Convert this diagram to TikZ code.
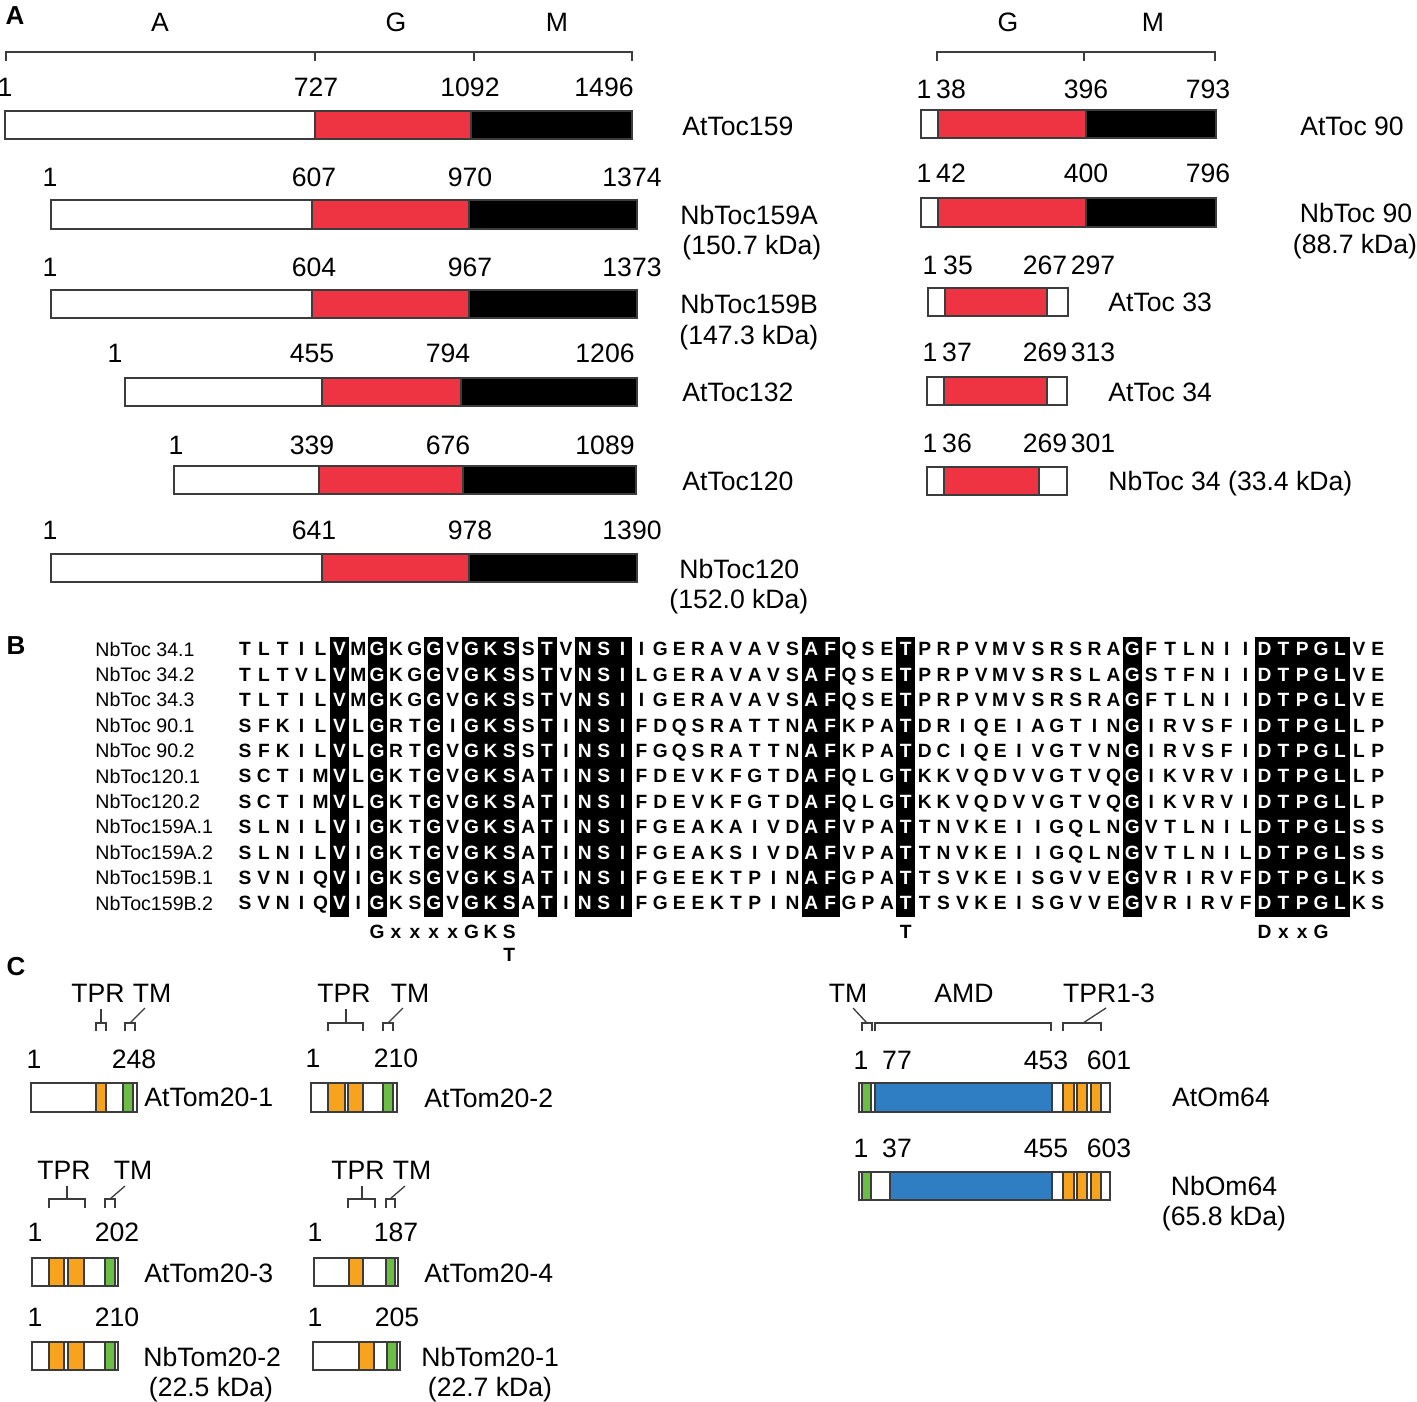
\documentclass[tikz,border=0pt]{standalone}
\usepackage{fontspec}
\setmainfont{Liberation Sans}
\definecolor{tocred}{RGB}{238,51,66}
\definecolor{tporange}{RGB}{247,163,30}
\definecolor{tmgreen}{RGB}{108,189,69}
\definecolor{amdblue}{RGB}{47,125,194}
\definecolor{bdr}{RGB}{60,60,60}
\tikzset{
 lab/.style={font=\fontsize{13.3}{15}\selectfont, inner sep=0pt, anchor=base, yshift=-4.76pt},
 labl/.style={lab, anchor=base west},
 panel/.style={font=\fontsize{13}{15}\selectfont\bfseries, inner sep=0pt, anchor=base, yshift=-4.65pt},
 aa/.style={font=\fontsize{9.6}{11}\selectfont\bfseries, inner sep=0pt, anchor=base, yshift=-3.44pt},
 rowname/.style={font=\fontsize{9.8}{11}\selectfont, inner sep=0pt, anchor=base west, yshift=-3.5pt},
 seg/.style={draw=bdr, line width=0.6pt},
 brk/.style={draw=bdr, line width=0.65pt},
}
\newcommand\segbar[3]{\foreach \xa/\xb/\cc in {#3} {\filldraw[seg,fill=\cc] (\xa,#1) rectangle (\xb,#2);}}
\newcounter{col}
\makeatletter
\def\whitecols{,5,7,10,12,13,14,16,18,19,20,30,31,35,47,54,55,56,57,58,}
\newcommand\seqrow[3]{\def\rowy{#2}\def\rowid{#1}\setcounter{col}{0}\seq@loop#3\relax}
\def\seq@loop#1{%
 \ifx#1\relax\else
  \edef\tmp@t{\noexpand\in@{,\arabic{col},}{\whitecols}}\tmp@t
  \ifin@\def\lc{white}\else\def\lc{black}\fi
  \node[aa,text=\lc] (s\rowid c\arabic{col}) at ({245+18.88*\arabic{col}},\rowy) {#1};%
  \stepcounter{col}%
  \expandafter\seq@loop
 \fi}
\makeatother
\begin{document}
\begin{tikzpicture}[x=0.5pt,y=-0.5pt]
\useasboundingbox (0,0) rectangle (1417,1401);
%% ---------------- Panel A ----------------
\node[panel] (pA) at (15,15) {A};
\node[lab] (dA) at (160,22) {A};
\node[lab] (dG) at (396,22) {G};
\node[lab] (dM) at (557,22) {M};
\node[lab] (dG2) at (1008,22) {G};
\node[lab] (dM2) at (1153,22) {M};
\draw[brk] (6,61) -- (6,52) -- (632,52) -- (632,61);
\draw[brk] (315,52) -- (315,61);
\draw[brk] (474,52) -- (474,61);
\draw[brk] (937,61) -- (937,52) -- (1215,52) -- (1215,61);
\draw[brk] (1084,52) -- (1084,61);
% AtToc159
\node[lab] (n1a) at (5,87) {1};
\node[lab] (n1b) at (316,87) {727};
\node[lab] (n1c) at (470,87) {1092};
\node[lab] (n1d) at (604,87) {1496};
\segbar{111}{139}{5/315/white,315/471/tocred,471/632/black}
\node[labl] (l1) at (682,126) {AtToc159};
% NbToc159A
\node[lab] (n2a) at (50,177) {1};
\node[lab] (n2b) at (314,177) {607};
\node[lab] (n2c) at (470,177) {970};
\node[lab] (n2d) at (632,177) {1374};
\segbar{200}{229}{51/312/white,312/469/tocred,469/637/black}
\node[labl] (l2) at (680,215) {NbToc159A};
\node[labl] (l2b) at (682,245) {(150.7 kDa)};
% NbToc159B
\node[lab] (n3a) at (50,267) {1};
\node[lab] (n3b) at (314,267) {604};
\node[lab] (n3c) at (470,267) {967};
\node[lab] (n3d) at (632,267) {1373};
\segbar{290}{318}{51/312/white,312/469/tocred,469/637/black}
\node[labl] (l3) at (680,304) {NbToc159B};
\node[labl] (l3b) at (679,335) {(147.3 kDa)};
% AtToc132
\node[lab] (n4a) at (115,353) {1};
\node[lab] (n4b) at (312,353) {455};
\node[lab] (n4c) at (448,353) {794};
\node[lab] (n4d) at (605,353) {1206};
\segbar{378}{406}{125/322/white,322/461/tocred,461/637/black}
\node[labl] (l4) at (682,392) {AtToc132};
% AtToc120
\node[lab] (n5a) at (176,445) {1};
\node[lab] (n5b) at (312,445) {339};
\node[lab] (n5c) at (448,445) {676};
\node[lab] (n5d) at (605,445) {1089};
\segbar{466}{494}{174/319/white,319/463/tocred,463/636/black}
\node[labl] (l5) at (682,481) {AtToc120};
% NbToc120
\node[lab] (n6a) at (50,530) {1};
\node[lab] (n6b) at (314,530) {641};
\node[lab] (n6c) at (470,530) {978};
\node[lab] (n6d) at (632,530) {1390};
\segbar{554}{582}{51/322/white,322/469/tocred,469/637/black}
\node[labl] (l6) at (679,569) {NbToc120};
\node[labl] (l6b) at (669,599) {(152.0 kDa)};
% AtToc90
\node[lab] (r1a) at (924,89) {1};
\node[lab] (r1b) at (951,89) {38};
\node[lab] (r1c) at (1086,89) {396};
\node[lab] (r1d) at (1208,89) {793};
\segbar{110}{138}{921/938/white,938/1086/tocred,1086/1216/black}
\node[lab] (rl1) at (1352,126) {AtToc 90};
% NbToc90
\node[lab] (r2a) at (924,173) {1};
\node[lab] (r2b) at (951,173) {42};
\node[lab] (r2c) at (1086,173) {400};
\node[lab] (r2d) at (1208,173) {796};
\segbar{198}{227}{921/938/white,938/1086/tocred,1086/1216/black}
\node[lab] (rl2) at (1356,213) {NbToc 90};
\node[lab] (rl2b) at (1355,244) {(88.7 kDa)};
% AtToc33
\node[lab] (r3a) at (930,265) {1};
\node[lab] (r3b) at (958,265) {35};
\node[lab] (r3c) at (1045,265) {267};
\node[lab] (r3d) at (1093,265) {297};
\segbar{288}{316}{928/945/white,945/1047/tocred,1047/1068/white}
\node[labl] (rl3) at (1108,302) {AtToc 33};
% AtToc34
\node[lab] (r4a) at (930,352) {1};
\node[lab] (r4b) at (957,352) {37};
\node[lab] (r4c) at (1045,352) {269};
\node[lab] (r4d) at (1093,352) {313};
\segbar{377}{405}{927/944/white,944/1047/tocred,1047/1067/white}
\node[labl] (rl4) at (1108,392) {AtToc 34};
% NbToc34
\node[lab] (r5a) at (930,443) {1};
\node[lab] (r5b) at (957,443) {36};
\node[lab] (r5c) at (1045,443) {269};
\node[lab] (r5d) at (1093,443) {301};
\segbar{467}{495}{927/944/white,944/1039/tocred,1039/1067/white}
\node[labl] (rl5) at (1108,481) {NbToc 34 (33.4 kDa)};
%% ---------------- Panel B ----------------
\node[panel] (pB) at (16,645) {B};
\foreach \a/\b in {5/5,7/7,10/10,12/14,16/16,18/20,30/31,35/35,47/47,54/58}
  \fill[black] ({245+18.88*\a-9.44},637) rectangle ({245+18.88*\b+9.44},917);
\node[rowname] (rn1) at (95,649) {NbToc 34.1};
\node[rowname] (rn2) at (95,674.4) {NbToc 34.2};
\node[rowname] (rn3) at (95,699.8) {NbToc 34.3};
\node[rowname] (rn4) at (95,725.2) {NbToc 90.1};
\node[rowname] (rn5) at (95,750.6) {NbToc 90.2};
\node[rowname] (rn6) at (95,776) {NbToc120.1};
\node[rowname] (rn7) at (95,801.4) {NbToc120.2};
\node[rowname] (rn8) at (95,826.8) {NbToc159A.1};
\node[rowname] (rn9) at (95,852.2) {NbToc159A.2};
\node[rowname] (rn10) at (95,877.6) {NbToc159B.1};
\node[rowname] (rn11) at (95,903) {NbToc159B.2};
\seqrow{1}{649}{TLTILVMGKGGVGKSSTVNSIIGERAVAVSAFQSETPRPVMVSRSRAGFTLNIIDTPGLVE}
\seqrow{2}{674.4}{TLTVLVMGKGGVGKSSTVNSILGERAVAVSAFQSETPRPVMVSRSLAGSTFNIIDTPGLVE}
\seqrow{3}{699.8}{TLTILVMGKGGVGKSSTVNSIIGERAVAVSAFQSETPRPVMVSRSRAGFTLNIIDTPGLVE}
\seqrow{4}{725.2}{SFKILVLGRTGIGKSSTINSIFDQSRATTNAFKPATDRIQEIAGTINGIRVSFIDTPGLLP}
\seqrow{5}{750.6}{SFKILVLGRTGVGKSSTINSIFGQSRATTNAFKPATDCIQEIVGTVNGIRVSFIDTPGLLP}
\seqrow{6}{776}{SCTIMVLGKTGVGKSATINSIFDEVKFGTDAFQLGTKKVQDVVGTVQGIKVRVIDTPGLLP}
\seqrow{7}{801.4}{SCTIMVLGKTGVGKSATINSIFDEVKFGTDAFQLGTKKVQDVVGTVQGIKVRVIDTPGLLP}
\seqrow{8}{826.8}{SLNILVIGKTGVGKSATINSIFGEAKAIVDAFVPATTNVKEIIGQLNGVTLNILDTPGLSS}
\seqrow{9}{852.2}{SLNILVIGKTGVGKSATINSIFGEAKSIVDAFVPATTNVKEIIGQLNGVTLNILDTPGLSS}
\seqrow{10}{877.6}{SVNIQVIGKSGVGKSATINSIFGEEKTPINAFGPATTSVKEISGVVEGVRIRVFDTPGLKS}
\seqrow{11}{903}{SVNIQVIGKSGVGKSATINSIFGEEKTPINAFGPATTSVKEISGVVEGVRIRVFDTPGLKS}
\foreach \c/\l in {7/G,8/x,9/x,10/x,11/x,12/G,13/K,14/S,35/T,54/D,55/x,56/x,57/G}
  \node[aa] (m\c) at ({245+18.88*\c},932) {\l};
\node[aa] (m14b) at ({245+18.88*14},955) {T};
%% ---------------- Panel C ----------------
\node[panel] (pC) at (16,966) {C};
% AtTom20-1
\node[lab] (t1p) at (98,993) {TPR};
\node[lab] (t1m) at (152,993) {TM};
\draw[brk] (101,1009) -- (101,1023);
\draw[brk] (96,1031) -- (96,1023) -- (106,1023) -- (106,1031);
\draw[brk] (125,1031) -- (125,1023) -- (135,1023) -- (135,1031);
\draw[brk] (130,1023) -- (145,1008);
\node[lab] (t1a) at (34,1059) {1};
\node[lab] (t1b) at (134,1059) {248};
\segbar{1083}{1112}{31/96/white,96/106/tporange,106/123/white,123/133/tmgreen,133/137/white}
\node[labl] (t1l) at (144,1097) {AtTom20-1};
% AtTom20-2
\node[lab] (t2p) at (344,993) {TPR};
\node[lab] (t2m) at (410,993) {TM};
\draw[brk] (346,1009) -- (346,1023);
\draw[brk] (328,1031) -- (328,1023) -- (363,1023) -- (363,1031);
\draw[brk] (383,1031) -- (383,1023) -- (393,1023) -- (393,1031);
\draw[brk] (388,1023) -- (403,1008);
\node[lab] (t2a) at (313,1058) {1};
\node[lab] (t2b) at (396,1058) {210};
\segbar{1083}{1112}{311/328/white,328/345/tporange,345/348/white,348/363/tporange,363/383/white,383/393/tmgreen,393/397/white}
\node[labl] (t2l) at (424,1098) {AtTom20-2};
% AtTom20-3
\node[lab] (t3p) at (64,1170) {TPR};
\node[lab] (t3m) at (133,1170) {TM};
\draw[brk] (67,1186) -- (67,1199);
\draw[brk] (49,1208) -- (49,1199) -- (85,1199) -- (85,1208);
\draw[brk] (105,1208) -- (105,1199) -- (115,1199) -- (115,1208);
\draw[brk] (110,1199) -- (125,1186);
\node[lab] (t3a) at (35,1232) {1};
\node[lab] (t3b) at (117,1232) {202};
\segbar{1258}{1286}{32/49/white,49/64/tporange,64/68/white,68/84/tporange,84/105/white,105/115/tmgreen,115/118/white}
\node[labl] (t3l) at (144,1273) {AtTom20-3};
% AtTom20-4
\node[lab] (t4p) at (358,1170) {TPR};
\node[lab] (t4m) at (412,1170) {TM};
\draw[brk] (362,1186) -- (362,1199);
\draw[brk] (348,1208) -- (348,1199) -- (375,1199) -- (375,1208);
\draw[brk] (386,1208) -- (386,1199) -- (395,1199) -- (395,1208);
\draw[brk] (390,1199) -- (405,1186);
\node[lab] (t4a) at (315,1232) {1};
\node[lab] (t4b) at (396,1232) {187};
\segbar{1258}{1286}{314/349/white,349/363/tporange,363/386/white,386/395/tmgreen,395/398/white}
\node[labl] (t4l) at (424,1273) {AtTom20-4};
% NbTom20-2
\node[lab] (t5a) at (35,1317) {1};
\node[lab] (t5b) at (117,1317) {210};
\segbar{1342}{1370}{32/49/white,49/64/tporange,64/68/white,68/84/tporange,84/105/white,105/115/tmgreen,115/118/white}
\node[labl] (t5l) at (143,1357) {NbTom20-2};
\node[lab] (t5k) at (211,1387) {(22.5 kDa)};
% NbTom20-1
\node[lab] (t6a) at (315,1317) {1};
\node[lab] (t6b) at (397,1317) {205};
\segbar{1342}{1370}{313/359/white,359/374/tporange,374/387/white,387/397/tmgreen,397/400/white}
\node[labl] (t6l) at (421,1357) {NbTom20-1};
\node[lab] (t6k) at (490,1387) {(22.7 kDa)};
% Om64
\node[lab] (o1t) at (848,993) {TM};
\node[lab] (o1a) at (964,993) {AMD};
\node[lab] (o1p) at (1109,993) {TPR1-3};
\draw[brk] (862,1031) -- (862,1023) -- (872,1023) -- (872,1031);
\draw[brk] (867,1023) -- (853,1008);
\draw[brk] (875,1031) -- (875,1023) -- (1051,1023) -- (1051,1031);
\draw[brk] (1063,1031) -- (1063,1023) -- (1101,1023) -- (1101,1031);
\draw[brk] (1083,1023) -- (1106,1008);
\node[lab] (o1n1) at (861,1060) {1};
\node[lab] (o1n2) at (897,1060) {77};
\node[lab] (o1n3) at (1046,1060) {453};
\node[lab] (o1n4) at (1109,1060) {601};
\segbar{1083}{1112}{859/862/white,862/871/tmgreen,871/875/white,875/1052/amdblue,1052/1063/white,1063/1074/tporange,1074/1077/white,1077/1087/tporange,1087/1091/white,1091/1101/tporange,1101/1110/white}
\node[lab] (o1l) at (1221,1097) {AtOm64};
\node[lab] (o2n1) at (861,1148) {1};
\node[lab] (o2n2) at (897,1148) {37};
\node[lab] (o2n3) at (1046,1148) {455};
\node[lab] (o2n4) at (1109,1148) {603};
\segbar{1172}{1200}{859/862/white,862/871/tmgreen,871/890/white,890/1052/amdblue,1052/1063/white,1063/1074/tporange,1074/1077/white,1077/1087/tporange,1087/1091/white,1091/1101/tporange,1101/1110/white}
\node[lab] (o2l) at (1224,1186) {NbOm64};
\node[lab] (o2k) at (1224,1216) {(65.8 kDa)};
\end{tikzpicture}
\end{document}
